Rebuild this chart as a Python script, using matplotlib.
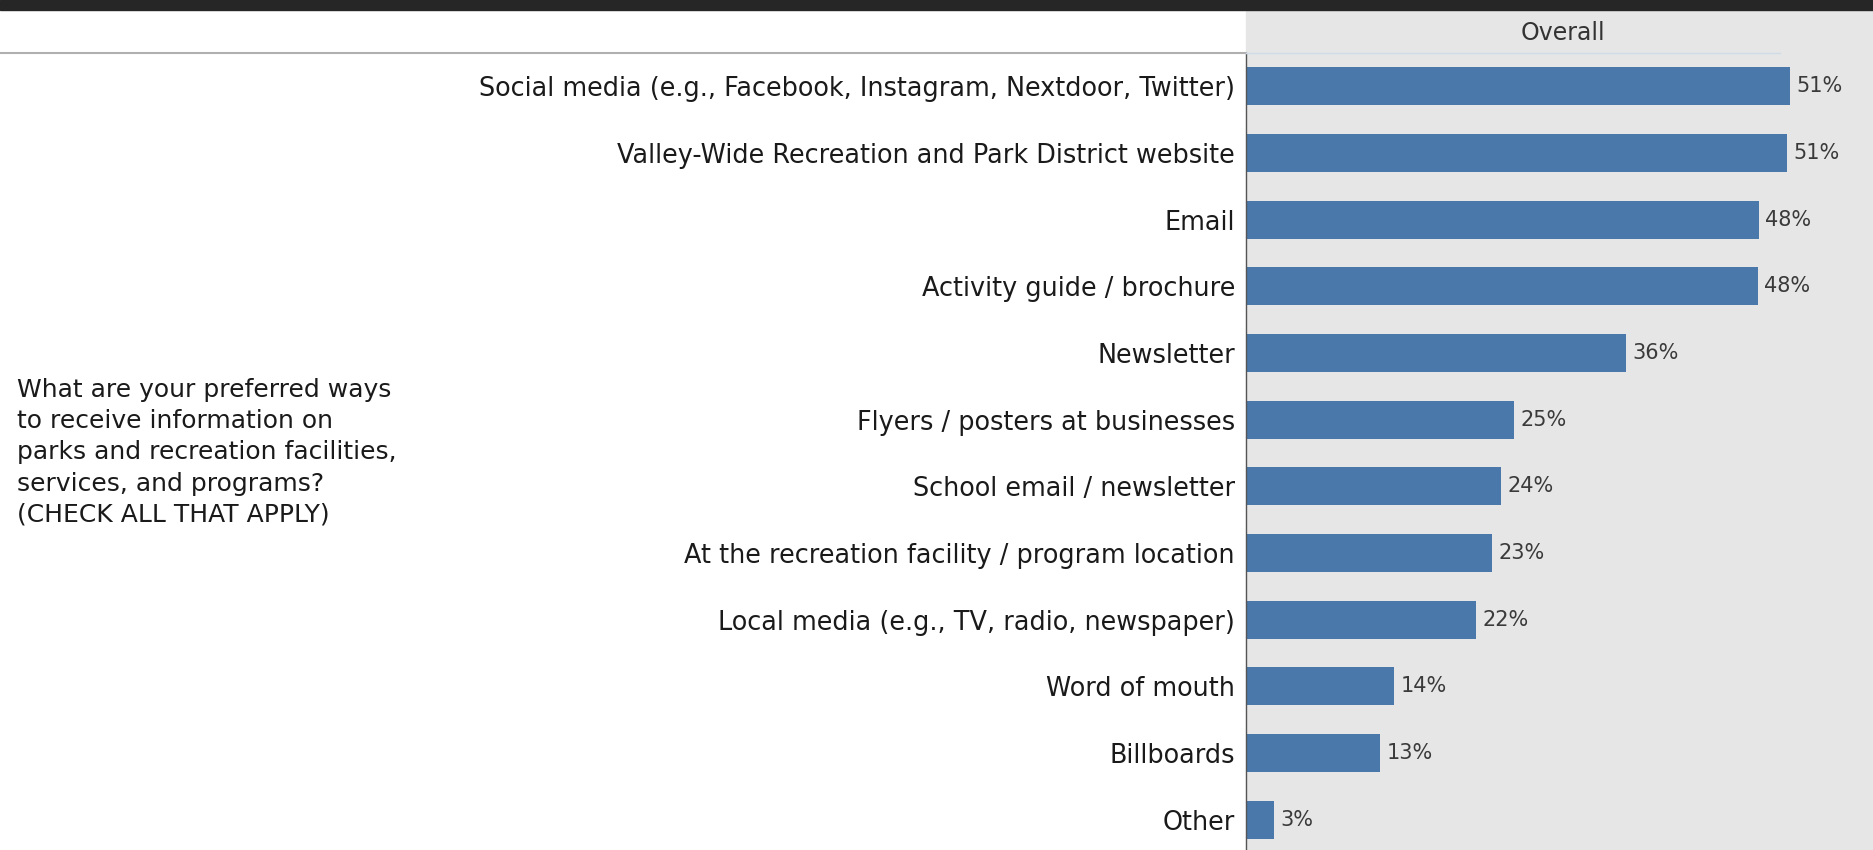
import numpy as np
import matplotlib.pyplot as plt
from matplotlib.patches import Rectangle
from matplotlib.lines import Line2D

categories = ["Social media (e.g., Facebook, Instagram, Nextdoor, Twitter)",
              "Valley-Wide Recreation and Park District website",
              "Email",
              "Activity guide / brochure",
              "Newsletter",
              "Flyers / posters at businesses",
              "School email / newsletter",
              "At the recreation facility / program location",
              "Local media (e.g., TV, radio, newspaper)",
              "Word of mouth",
              "Billboards",
              "Other"]
values = [51.1, 50.8, 48.2, 48.1, 35.7, 25.2, 24.0, 23.1, 21.6, 13.9, 12.6, 2.6]
value_labels = ["51%", "51%", "48%", "48%", "36%", "25%", "24%", "23%", "22%", "14%", "13%", "3%"]
question = ("What are your preferred ways\nto receive information on\n"
            "parks and recreation facilities,\nservices, and programs?\n(CHECK ALL THAT APPLY)")

W, H = 1874, 850
fig = plt.figure(figsize=(W / 100, H / 100), dpi=100)
fig.patch.set_facecolor('white')

x0 = 1246
top = 53
# gray panel behind header
fig.patches.append(Rectangle((x0 / W, 0), (W - x0) / W, 1, transform=fig.transFigure,
                             color='#e6e6e6', zorder=-5))
# dark band on top
fig.patches.append(Rectangle((0, 1 - 10 / H), 1, 10 / H, transform=fig.transFigure,
                             color='#262626', zorder=5))
fig.lines.append(Line2D([0, x0 / W], [1 - top / H, 1 - top / H], transform=fig.transFigure,
                        color='#b0b0b0', lw=1.5))
fig.lines.append(Line2D([x0 / W, 1780 / W], [1 - top / H, 1 - top / H], transform=fig.transFigure,
                        color='#cfdce8', lw=1))
fig.text(1563 / W, 1 - 33 / H, "Overall", ha='center', va='center',
         fontsize=17, color='#333333')

ax = fig.add_axes([x0 / W, -3 / H, (W - x0) / W, 800 / H])
ax.set_facecolor('#e6e6e6')
ind = np.arange(len(categories))
ax.barh(ind, values, height=0.57, color='#4a78aa')
ax.set_ylim(len(categories) - 0.5, -0.5)
ax.set_xlim(0, 59)
ax.set_yticks(ind)
ax.set_yticklabels(categories, fontsize=18.4, color='#1a1a1a')
ax.tick_params(axis='y', length=0, pad=8)
ax.set_xticks([])
for s in ['top', 'right', 'bottom']:
    ax.spines[s].set_visible(False)
ax.spines['left'].set_color('#555555')
ax.spines['left'].set_linewidth(1)

for i, v in enumerate(values):
    ax.text(v + 0.6, i, value_labels[i], va='center', ha='left', fontsize=15, color='#3a3a3a')

fig.text(17 / W, 1 - 378 / H, question, ha='left', va='top', fontsize=18,
         color='#1a1a1a', linespacing=1.38)

fig.savefig('out.png', dpi=100)
